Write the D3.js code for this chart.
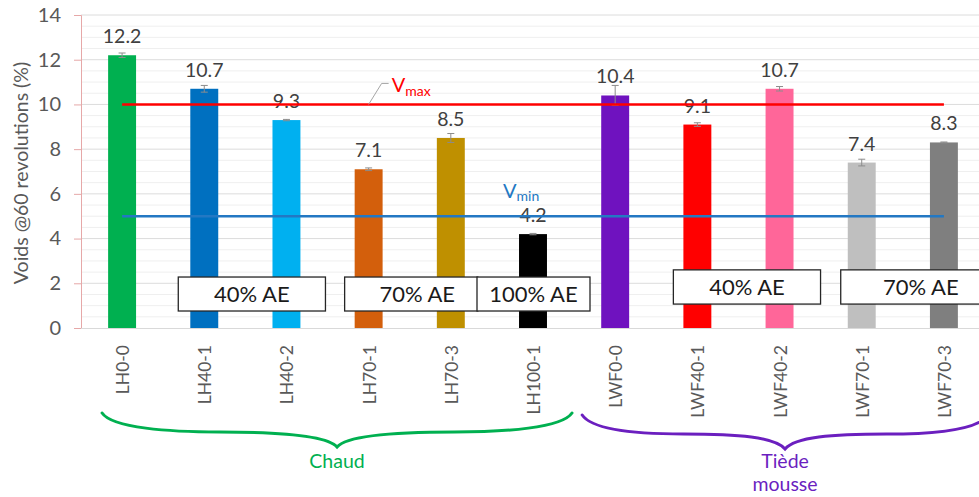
<!DOCTYPE html>
<html><head><meta charset="utf-8">
<script src="https://cdn.jsdelivr.net/npm/d3@7"></script>
<style>html,body{margin:0;padding:0;background:#fff;}svg{display:block;font-family:Lato,"Open Sans",sans-serif;}</style>
</head><body>
<svg id="c" width="979" height="497"></svg>
<script>
const categories = ["LH0-0","LH40-1","LH40-2","LH70-1","LH70-3","LH100-1","LWF0-0","LWF40-1","LWF40-2","LWF70-1","LWF70-3"];
const values = [12.2,10.7,9.3,7.1,8.5,4.2,10.4,9.1,10.7,7.4,8.3];
const errors = [0.1,0.15,0.03,0.06,0.2,0.03,0.45,0.08,0.1,0.15,0.02];
const barColors = ["#00b050","#0070c0","#00b0f0","#d35f0c","#bf9000","#000000","#6f12bf","#ff0000","#ff6699","#bfbfbf","#7f7f7f"];
const yTicks = [0,2,4,6,8,10,12,14];
const refLines = [{name:"max", value:10, color:"#ff0000"},{name:"min", value:5, color:"#2378c3"}];
const aeBoxes = [
  {label:"40% AE", from:"LH40-1", to:"LH40-2", top:2.28, bottom:0.76},
  {label:"70% AE", from:"LH70-1", to:"LH70-3", top:2.28, bottom:0.76},
  {label:"100% AE", from:"LH100-1", to:"LH100-1", top:2.28, bottom:0.76},
  {label:"40% AE", from:"LWF40-1", to:"LWF40-2", top:2.6, bottom:1.07},
  {label:"70% AE", from:"LWF70-1", to:"LWF70-3", top:2.6, bottom:1.07}
];
const groups = [
  {label:["Chaud"], from:"LH0-0", to:"LH100-1", color:"#00b050"},
  {label:["Tiède","mousse"], from:"LWF0-0", to:"LWF70-3", color:"#6b1fbf"}
];

const svg = d3.select("#c");
const x = d3.scaleBand().domain(categories).range([81, 985]).paddingInner(0.66).paddingOuter(0.33);
const y = d3.scaleLinear().domain([0,14]).range([328, 15]);
const cx = c => x(c) + x.bandwidth()/2;

// minor gridlines
const minor = d3.range(0, 14.01, 0.5).filter(v => v % 2 !== 0);
svg.append("g").selectAll("line").data(minor).join("line")
  .attr("x1", 81).attr("x2", 979).attr("y1", d => y(d)).attr("y2", d => y(d))
  .attr("stroke", "#efefef").attr("stroke-width", 1);
// major gridlines
svg.append("g").selectAll("line").data(yTicks.filter(v=>v>0)).join("line")
  .attr("x1", 81).attr("x2", 979).attr("y1", d => y(d)).attr("y2", d => y(d))
  .attr("stroke", "#dcdcdc").attr("stroke-width", 1);

// y axis
const yAxis = d3.axisLeft(y).tickValues(yTicks).tickSize(7).tickPadding(13);
const ga = svg.append("g").attr("transform", "translate(81,0)").call(yAxis);
ga.select(".domain").attr("stroke", "#e6a8a8");
ga.selectAll(".tick line").attr("stroke", "#e6a8a8");
ga.selectAll(".tick text").attr("fill", "#595959").attr("font-size", 20).attr("font-family", "Lato");

// x baseline
svg.append("line").attr("x1", 81).attr("x2", 979).attr("y1", y(0)+0.5).attr("y2", y(0)+0.5)
  .attr("stroke", "#d9d9d9").attr("stroke-width", 1);

// y title
svg.append("text").attr("transform", "translate(28,173) rotate(-90)")
  .attr("text-anchor", "middle").attr("fill", "#595959").attr("font-size", 19.5)
  .text("Voids @60 revolutions (%)");

// bars
svg.append("g").selectAll("rect").data(categories).join("rect")
  .attr("x", d => x(d)).attr("width", x.bandwidth())
  .attr("y", (d,i) => y(values[i])).attr("height", (d,i) => y(0) - y(values[i]))
  .attr("fill", (d,i) => barColors[i]);

// error bars
const eg = svg.append("g").attr("stroke", "#8c8c8c").attr("stroke-width", 1);
categories.forEach((c,i) => {
  const x0 = cx(c), yt = y(values[i] + errors[i]), yb = y(values[i] - errors[i]);
  eg.append("line").attr("x1", x0).attr("x2", x0).attr("y1", yt).attr("y2", yb);
  eg.append("line").attr("x1", x0-3.5).attr("x2", x0+3.5).attr("y1", yt).attr("y2", yt);
  eg.append("line").attr("x1", x0-3.5).attr("x2", x0+3.5).attr("y1", yb).attr("y2", yb);
});

// value labels
svg.append("g").selectAll("text").data(categories).join("text")
  .attr("x", d => cx(d)).attr("y", (d,i) => y(values[i]) - 12)
  .attr("text-anchor", "middle").attr("fill", "#404040").attr("font-size", 19.5)
  .text((d,i) => values[i].toFixed(1));

// x labels
svg.append("g").selectAll("text").data(categories).join("text")
  .attr("transform", d => `translate(${cx(d)+7},345) rotate(-90)`)
  .attr("text-anchor", "end").attr("fill", "#595959").attr("font-size", 17.5)
  .text(d => d);

// reference lines
const firstC = cx(categories[0]), lastC = cx(categories[categories.length-1]);
refLines.forEach(r => {
  svg.append("line").attr("x1", firstC).attr("x2", lastC).attr("y1", y(r.value)).attr("y2", y(r.value))
    .attr("stroke", r.color).attr("stroke-width", 2.5);
});
const rMax = refLines[0], rMin = refLines[1];
svg.append("path").attr("d", `M${cx("LH70-1")},${y(rMax.value)} L${cx("LH70-1")+13},${y(rMax.value)-21} L${cx("LH70-1")+20},${y(rMax.value)-21}`)
  .attr("fill", "none").attr("stroke", "#a6a6a6").attr("stroke-width", 1);
const tMax = svg.append("text").attr("x", cx("LH70-1")+23).attr("y", y(rMax.value)-12).attr("fill", rMax.color).attr("font-size", 20);
tMax.append("tspan").text("V");
tMax.append("tspan").attr("font-size", 14).attr("dy", 4).text(rMax.name);
const tMin = svg.append("text").attr("x", cx("LH100-1")-30).attr("y", y(rMin.value)-18).attr("fill", rMin.color).attr("font-size", 20);
tMin.append("tspan").text("V");
tMin.append("tspan").attr("font-size", 14).attr("dy", 3).text(rMin.name);

// AE boxes
const boxX = {
  "LH40-1": [-26, 39], "LH40-2": [-26, 39], "LH70-1": [-24, 27], "LH70-3": [-24, 27],
  "LH100-1": [-56, 57], "LWF40-1": [-24, 41], "LWF40-2": [-24, 41], "LWF70-1": [-21, 45], "LWF70-3": [-21, 45]
};
const bg = svg.append("g");
aeBoxes.forEach(b => {
  const x1 = cx(b.from) + boxX[b.from][0], x2 = cx(b.to) + boxX[b.to][1];
  const y1 = y(b.top), y2 = y(b.bottom);
  bg.append("rect").attr("x", x1).attr("y", y1).attr("width", x2-x1).attr("height", y2-y1)
    .attr("fill", "#fff").attr("stroke", "#262626").attr("stroke-width", 1.3);
  bg.append("text").attr("x", (x1+x2)/2 + (b.label==="70% AE"?6:0)).attr("y", (y1+y2)/2 + 8)
    .attr("text-anchor", "middle").attr("fill", "#1a1a1a").attr("font-size", 22).text(b.label);
});

// braces
function bracePath(x1, x2, y0) {
  const xm = (x1+x2)/2, a = (x1+xm)/2, b = (xm+x2)/2, h1 = 19, h2 = 34;
  return `M${x1},${y0} C${x1+10},${y0+15} ${a-50},${y0+h1} ${a},${y0+h1}`+
         ` C${a+55},${y0+h1} ${xm-10},${y0+h1+3} ${xm},${y0+h2}`+
         ` C${xm+10},${y0+h1+3} ${b-55},${y0+h1} ${b},${y0+h1}`+
         ` C${b+50},${y0+h1} ${x2-10},${y0+15} ${x2},${y0}`;
}
const braceOffsets = [[-20, 39], [-33, 44]];
groups.forEach((g, gi) => {
  const x1 = cx(g.from) + braceOffsets[gi][0], x2 = cx(g.to) + braceOffsets[gi][1];
  const xm = (x1+x2)/2;
  svg.append("path").attr("d", bracePath(x1, x2, 413 + gi*2)).attr("fill", "none")
    .attr("stroke", g.color).attr("stroke-width", 3).attr("stroke-linecap", "round");
  g.label.forEach((t,i) => {
    svg.append("text").attr("x", xm).attr("y", 468 + i*23).attr("text-anchor", "middle")
      .attr("fill", g.color).attr("font-size", 19.5).text(t);
  });
});
</script>
</body></html>
